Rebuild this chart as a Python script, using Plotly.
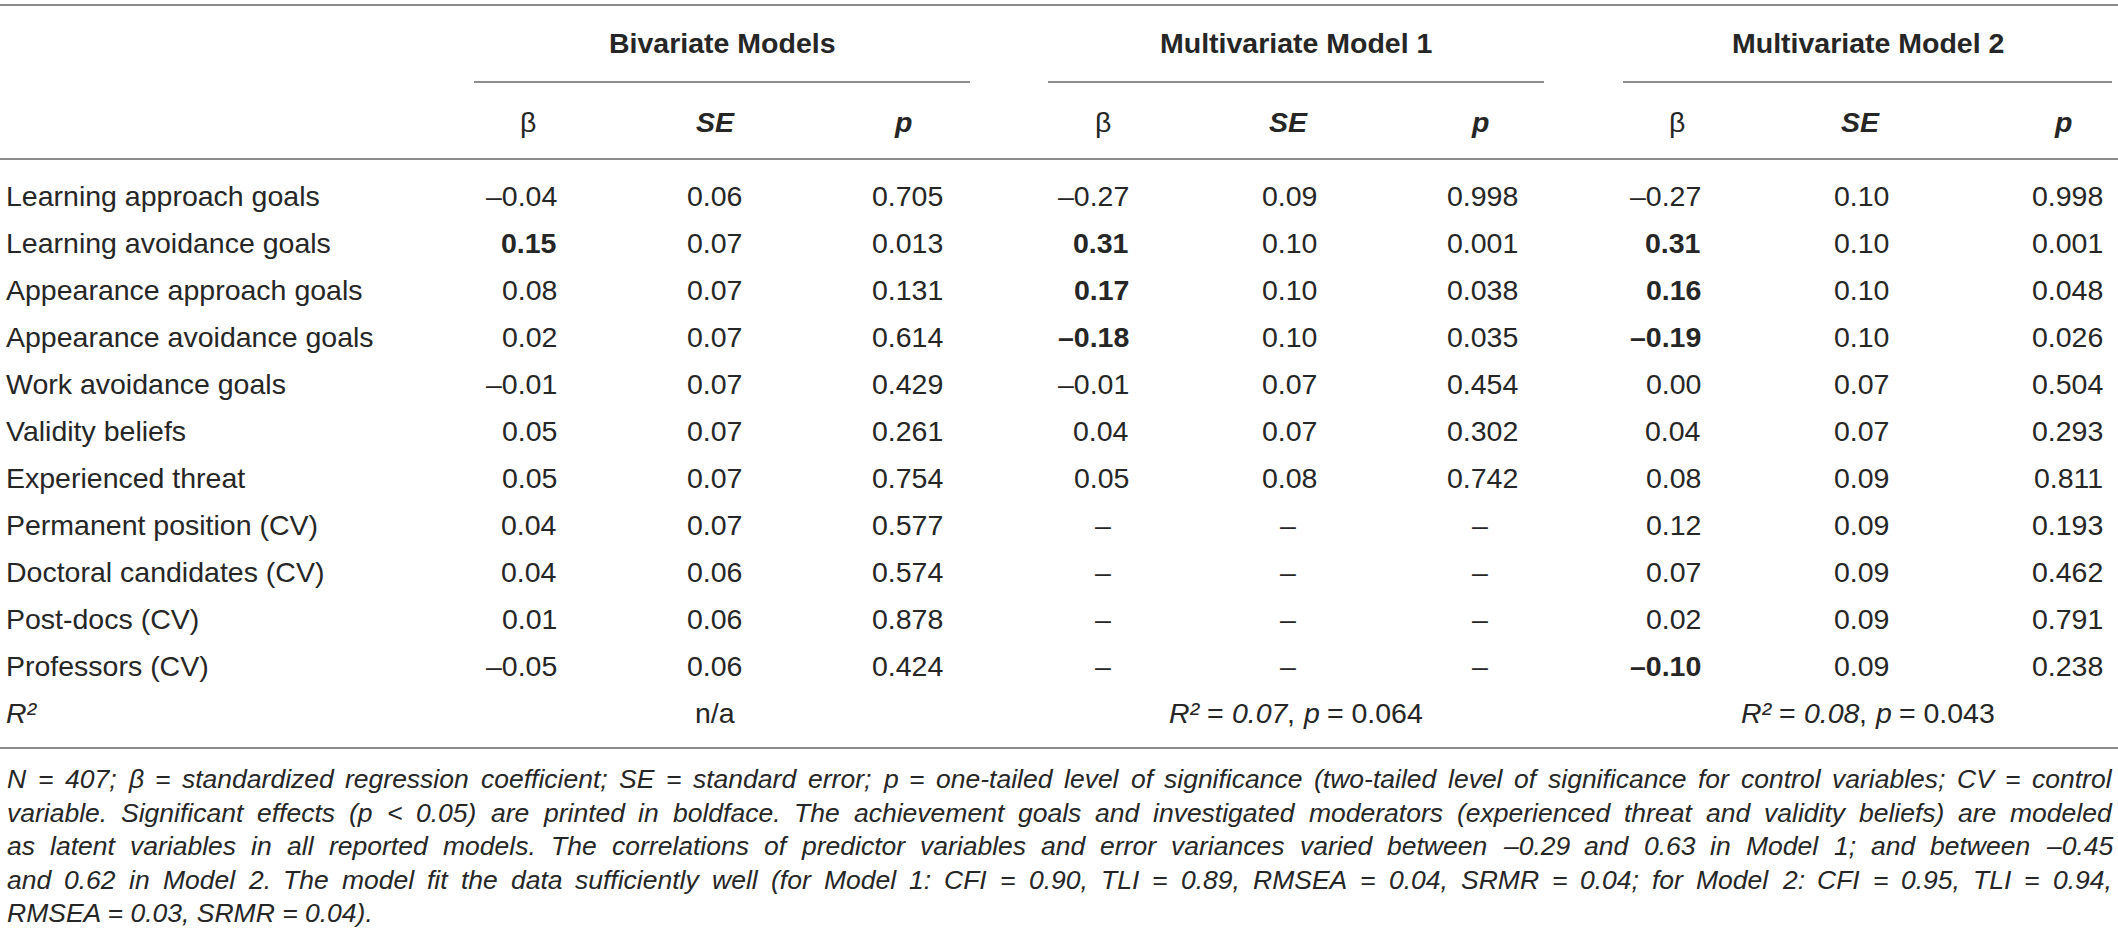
import plotly.graph_objects as go

# table content
row_labels = ["Learning approach goals", "Learning avoidance goals", "Appearance approach goals",
              "Appearance avoidance goals", "Work avoidance goals", "Validity beliefs",
              "Experienced threat", "Permanent position (CV)", "Doctoral candidates (CV)",
              "Post-docs (CV)", "Professors (CV)"]

group_names = ["Bivariate Models", "Multivariate Model 1", "Multivariate Model 2"]
col_names = ["β", "SE", "p"]

biv_beta = [-0.04, 0.15, 0.08, 0.02, -0.01, 0.05, 0.05, 0.04, 0.04, 0.01, -0.05]
biv_se = [0.06, 0.07, 0.07, 0.07, 0.07, 0.07, 0.07, 0.07, 0.06, 0.06, 0.06]
biv_p = [0.705, 0.013, 0.131, 0.614, 0.429, 0.261, 0.754, 0.577, 0.574, 0.878, 0.424]

m1_beta = [-0.27, 0.31, 0.17, -0.18, -0.01, 0.04, 0.05, None, None, None, None]
m1_se = [0.09, 0.10, 0.10, 0.10, 0.07, 0.07, 0.08, None, None, None, None]
m1_p = [0.998, 0.001, 0.038, 0.035, 0.454, 0.302, 0.742, None, None, None, None]

m2_beta = [-0.27, 0.31, 0.16, -0.19, 0.00, 0.04, 0.08, 0.12, 0.07, 0.02, -0.10]
m2_se = [0.10, 0.10, 0.10, 0.10, 0.07, 0.07, 0.09, 0.09, 0.09, 0.09, 0.09]
m2_p = [0.998, 0.001, 0.048, 0.026, 0.504, 0.293, 0.811, 0.193, 0.462, 0.791, 0.238]

# rows whose beta is printed in boldface
biv_bold = [1]
m1_bold = [1, 2, 3]
m2_bold = [1, 2, 3, 10]

# model fit row
r2_values = [None, 0.07, 0.08]
r2_pvalues = [None, 0.064, 0.043]

footnote = [
    "N = 407; β = standardized regression coefficient; SE = standard error; p = one-tailed level of significance (two-tailed level of significance for control variables; CV = control",
    "variable. Significant effects (p < 0.05) are printed in boldface. The achievement goals and investigated moderators (experienced threat and validity beliefs) are modeled",
    "as latent variables in all reported models. The correlations of predictor variables and error variances varied between –0.29 and 0.63 in Model 1; and between –0.45",
    "and 0.62 in Model 2. The model fit the data sufficiently well (for Model 1: CFI = 0.90, TLI = 0.89, RMSEA = 0.04, SRMR = 0.04; for Model 2: CFI = 0.95, TLI = 0.94,",
    "RMSEA = 0.03, SRMR = 0.04).",
]

# layout (pixels)
W, H = 2118, 948
FONT = "Liberation Sans, Arial, sans-serif"
TXT = "#262626"
RULE = "#8c8c8c"
size = 28.5
fsize = 26.5

label_x = 6
group_center = [722, 1296, 1868]
group_span = [(474, 970), (1048, 1544), (1623, 2112)]
col_center = [[528, 715, 903], [1103, 1288, 1480], [1677, 1860, 2063]]
col_right = [[557, 742, 943], [1129, 1317, 1518], [1701, 1889, 2103]]

y_group = 43
y_colhead = 122
row0, row_step = 196, 47
y_foot0, foot_step = 779, 33.6


def fmt(v, nd):
    if v is None:
        return None
    s = f"{abs(v):.{nd}f}"
    return ("–" + s) if v < 0 else s


# Helvetica/Arial advance widths (1/1000 em), for justified footnote and mixed-style runs
widths = {" ": 278, "(": 333, ")": 333, ",": 278, "-": 333, ".": 278, ":": 278, ";": 278,
          "<": 584, "=": 584, "–": 556, "β": 575, "²": 333}
for ch in "0123456789":
    widths[ch] = 556
widths.update(dict(zip("ABCDEFGHIJKLMNOPQRSTUVWXYZ",
                       [667, 667, 722, 722, 667, 611, 778, 722, 278, 500, 667, 556, 833,
                        722, 778, 667, 778, 722, 667, 611, 722, 667, 944, 667, 667, 611])))
widths.update(dict(zip("abcdefghijklmnopqrstuvwxyz",
                       [556, 556, 500, 556, 556, 278, 556, 556, 222, 222, 500, 222, 833,
                        556, 556, 556, 556, 333, 500, 278, 556, 500, 722, 500, 500, 500])))


def text_w(s, fs):
    return sum(widths.get(c, 556) for c in s) / 1000 * fs


fig = go.Figure()
ann = []


def add(text, x, y, xa="left", fs=size, weight="normal", style="normal"):
    ann.append(dict(text=text, x=x, y=y, xref="x", yref="y", xanchor=xa, yanchor="middle",
                    showarrow=False, borderpad=0, borderwidth=0,
                    font=dict(family=FONT, size=fs, color=TXT, weight=weight, style=style)))


def add_runs(runs, cx, y, fs=size):
    # runs of (text, style) laid side by side, centred on cx
    total = sum(text_w(t, fs) for t, _ in runs)
    x = cx - total / 2
    for t, st in runs:
        add(t, x, y, "left", fs=fs, style=st)
        x += text_w(t, fs)


# group headers and column headers
for g in range(3):
    add(group_names[g], group_center[g], y_group, "center", weight="bold")
    add(col_names[0], col_center[g][0], y_colhead, "center")
    add(col_names[1], col_center[g][1], y_colhead, "center", weight="bold", style="italic")
    add(col_names[2], col_center[g][2], y_colhead, "center", weight="bold", style="italic")

# body
groups = [(biv_beta, biv_se, biv_p, biv_bold),
          (m1_beta, m1_se, m1_p, m1_bold),
          (m2_beta, m2_se, m2_p, m2_bold)]
for i, lab in enumerate(row_labels):
    y = row0 + i * row_step
    add(lab, label_x, y)
    for g, (b, se, p, bold) in enumerate(groups):
        vals = [fmt(b[i], 2), fmt(se[i], 2), fmt(p[i], 3)]
        for c, v in enumerate(vals):
            if v is None:
                add("–", col_center[g][c], y, "center")
            elif c == 0 and i in bold:
                add(v, col_right[g][c], y, "right", weight="bold")
            else:
                add(v, col_right[g][c], y, "right")

# R squared row
y_r2 = row0 + len(row_labels) * row_step
add("R²", label_x, y_r2, style="italic")
for g in range(3):
    if r2_values[g] is None:
        add("n/a", col_center[g][1], y_r2, "center")
    else:
        add_runs([("R²", "italic"), (" = ", "normal"), (f"{r2_values[g]:.2f}", "italic"),
                  (", ", "normal"), ("p", "italic"), (f" = {r2_pvalues[g]:.3f}", "normal")],
                 group_center[g], y_r2)

# footnote, justified between the left and right table edges
left, right = 7, 2112
for k, line in enumerate(footnote):
    y = y_foot0 + k * foot_step
    words = line.split(" ")
    if k == len(footnote) - 1:
        add(line, left, y, fs=fsize, style="italic")
        continue
    ws = [text_w(w, fsize) for w in words]
    gap = (right - left - sum(ws)) / (len(words) - 1)
    x = left
    for w, wd in zip(words, ws):
        add(w.replace("<", "&lt;"), x, y, fs=fsize, style="italic")
        x += wd + gap

# rules
shapes = []
for yy in [5, 159, row0 + len(row_labels) * row_step + 35]:
    shapes.append(dict(type="line", xref="x", yref="y", x0=0, x1=W, y0=yy, y1=yy,
                       line=dict(color=RULE, width=1.8)))
for x0, x1 in group_span:
    shapes.append(dict(type="line", xref="x", yref="y", x0=x0, x1=x1, y0=82, y1=82,
                       line=dict(color=RULE, width=1.8)))

fig.update_layout(
    width=W, height=H,
    margin=dict(l=0, r=0, t=0, b=0),
    paper_bgcolor="white", plot_bgcolor="white",
    xaxis=dict(range=[0, W], visible=False, fixedrange=True),
    yaxis=dict(range=[H, 0], visible=False, fixedrange=True),
    annotations=ann, shapes=shapes,
    showlegend=False,
)

fig.write_html("out.html", config={"displayModeBar": False},
               post_script="document.body.style.margin='0';document.body.style.overflow='hidden';")
